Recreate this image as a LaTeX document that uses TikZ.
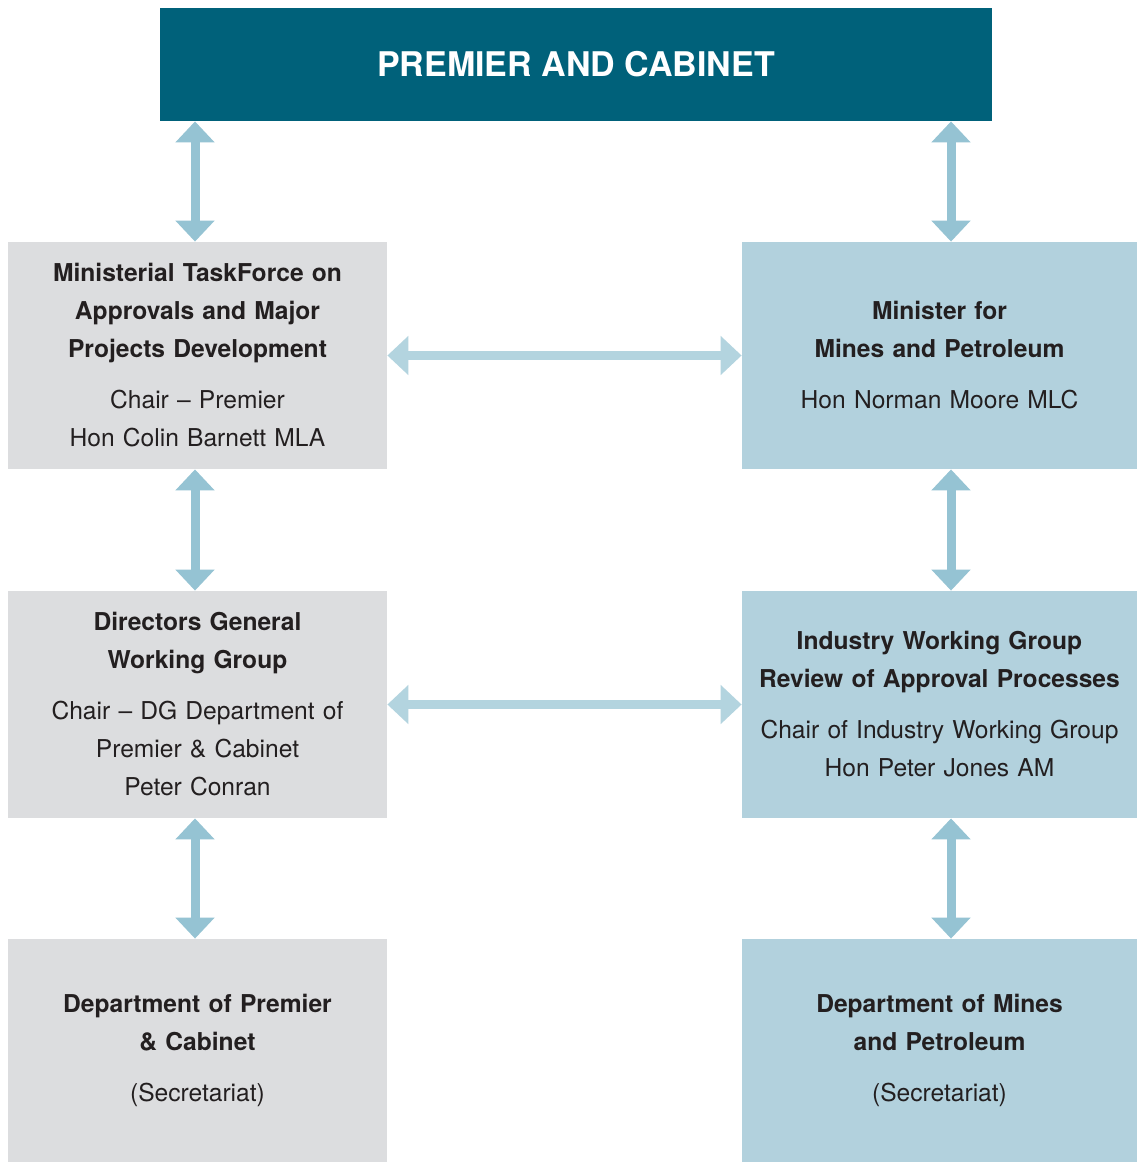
\documentclass[tikz,border=0pt]{standalone}
\usepackage{fontspec}
\setmainfont{TeX Gyre Heros}
\usepackage{tikz}
\usetikzlibrary{arrows.meta,positioning,calc}

\definecolor{headteal}{HTML}{00617A}
\definecolor{boxgray}{HTML}{DCDDDF}
\definecolor{boxblue}{HTML}{B2D1DD}
\definecolor{vertblue}{HTML}{95C3D3}
\definecolor{horzblue}{HTML}{B3D4DF}
\definecolor{inkdark}{HTML}{231F20}

\tikzset{
  orgbox/.style={rectangle, inner sep=4pt, align=center, text=inkdark,
    font=\fontsize{12.3}{19}\selectfont, minimum height=113.5pt},
  leftbox/.style={orgbox, fill=boxgray, minimum width=189.5pt, text width=181.5pt},
  rightbox/.style={orgbox, fill=boxblue, minimum width=197.5pt, text width=189.5pt},
  biarrow/.style={line width=4.5pt,
    {Triangle[width=19pt,length=10.5pt]}-{Triangle[width=19pt,length=10.5pt]}},
  vlink/.style={biarrow, draw=vertblue},
  hlink/.style={biarrow, draw=horzblue}
}

\begin{document}
\begin{tikzpicture}
  \useasboundingbox (0,0) rectangle (568.5pt,-581pt);
  \fill[white] (0,0) rectangle (568.5pt,-581pt);

  \node[fill=headteal, text=white, minimum width=416pt, minimum height=56.5pt,
    font=\fontsize{17}{20}\selectfont\bfseries] (cabinet) at (288pt,-32.25pt) {PREMIER AND CABINET};

  % left column
  \node[leftbox] (taskforce) at (98.75pt,-177.75pt)
    {{\bfseries Ministerial TaskForce on\\ Approvals and Major\\ Projects Development}\\[6.5pt]
     Chair -- Premier\\ Hon Colin Barnett MLA};
  \node[leftbox] (dgwg) at (98.75pt,-352.25pt)
    {{\bfseries Directors General\\ Working Group}\\[6.5pt]
     Chair -- DG Department of\\ Premier \& Cabinet\\ Peter Conran};
  \node[leftbox, minimum height=111.5pt] (dpc) at (98.75pt,-525.25pt)
    {{\bfseries Department of Premier\\ \& Cabinet}\\[6.5pt] (Secretariat)};

  % right column
  \node[rightbox] (minister) at (469.75pt,-177.75pt)
    {{\bfseries Minister for\\ Mines and Petroleum}\\[6.5pt] Hon Norman Moore MLC};
  \node[rightbox] (iwg) at (469.75pt,-352.25pt)
    {{\bfseries Industry Working Group\\ Review of Approval Processes}\\[6.5pt]
     Chair of Industry Working Group\\ Hon Peter Jones AM};
  \node[rightbox, minimum height=111.5pt] (dmp) at (469.75pt,-525.25pt)
    {{\bfseries Department of Mines\\ and Petroleum}\\[6.5pt] (Secretariat)};

  % vertical links
  \draw[vlink] ([xshift=-1.25pt]taskforce.north |- cabinet.south) -- ([xshift=-1.25pt]taskforce.north);
  \draw[vlink] ([xshift=-1.25pt]taskforce.south) -- ([xshift=-1.25pt]dgwg.north);
  \draw[vlink] ([xshift=-1.25pt]dgwg.south) -- ([xshift=-1.25pt]dpc.north);
  \draw[vlink] ([xshift=5.75pt]minister.north |- cabinet.south) -- ([xshift=5.75pt]minister.north);
  \draw[vlink] ([xshift=5.75pt]minister.south) -- ([xshift=5.75pt]iwg.north);
  \draw[vlink] ([xshift=5.75pt]iwg.south) -- ([xshift=5.75pt]dmp.north);

  % horizontal links
  \draw[hlink] (taskforce.east) -- (minister.west);
  \draw[hlink] (dgwg.east) -- (iwg.west);
\end{tikzpicture}
\end{document}
